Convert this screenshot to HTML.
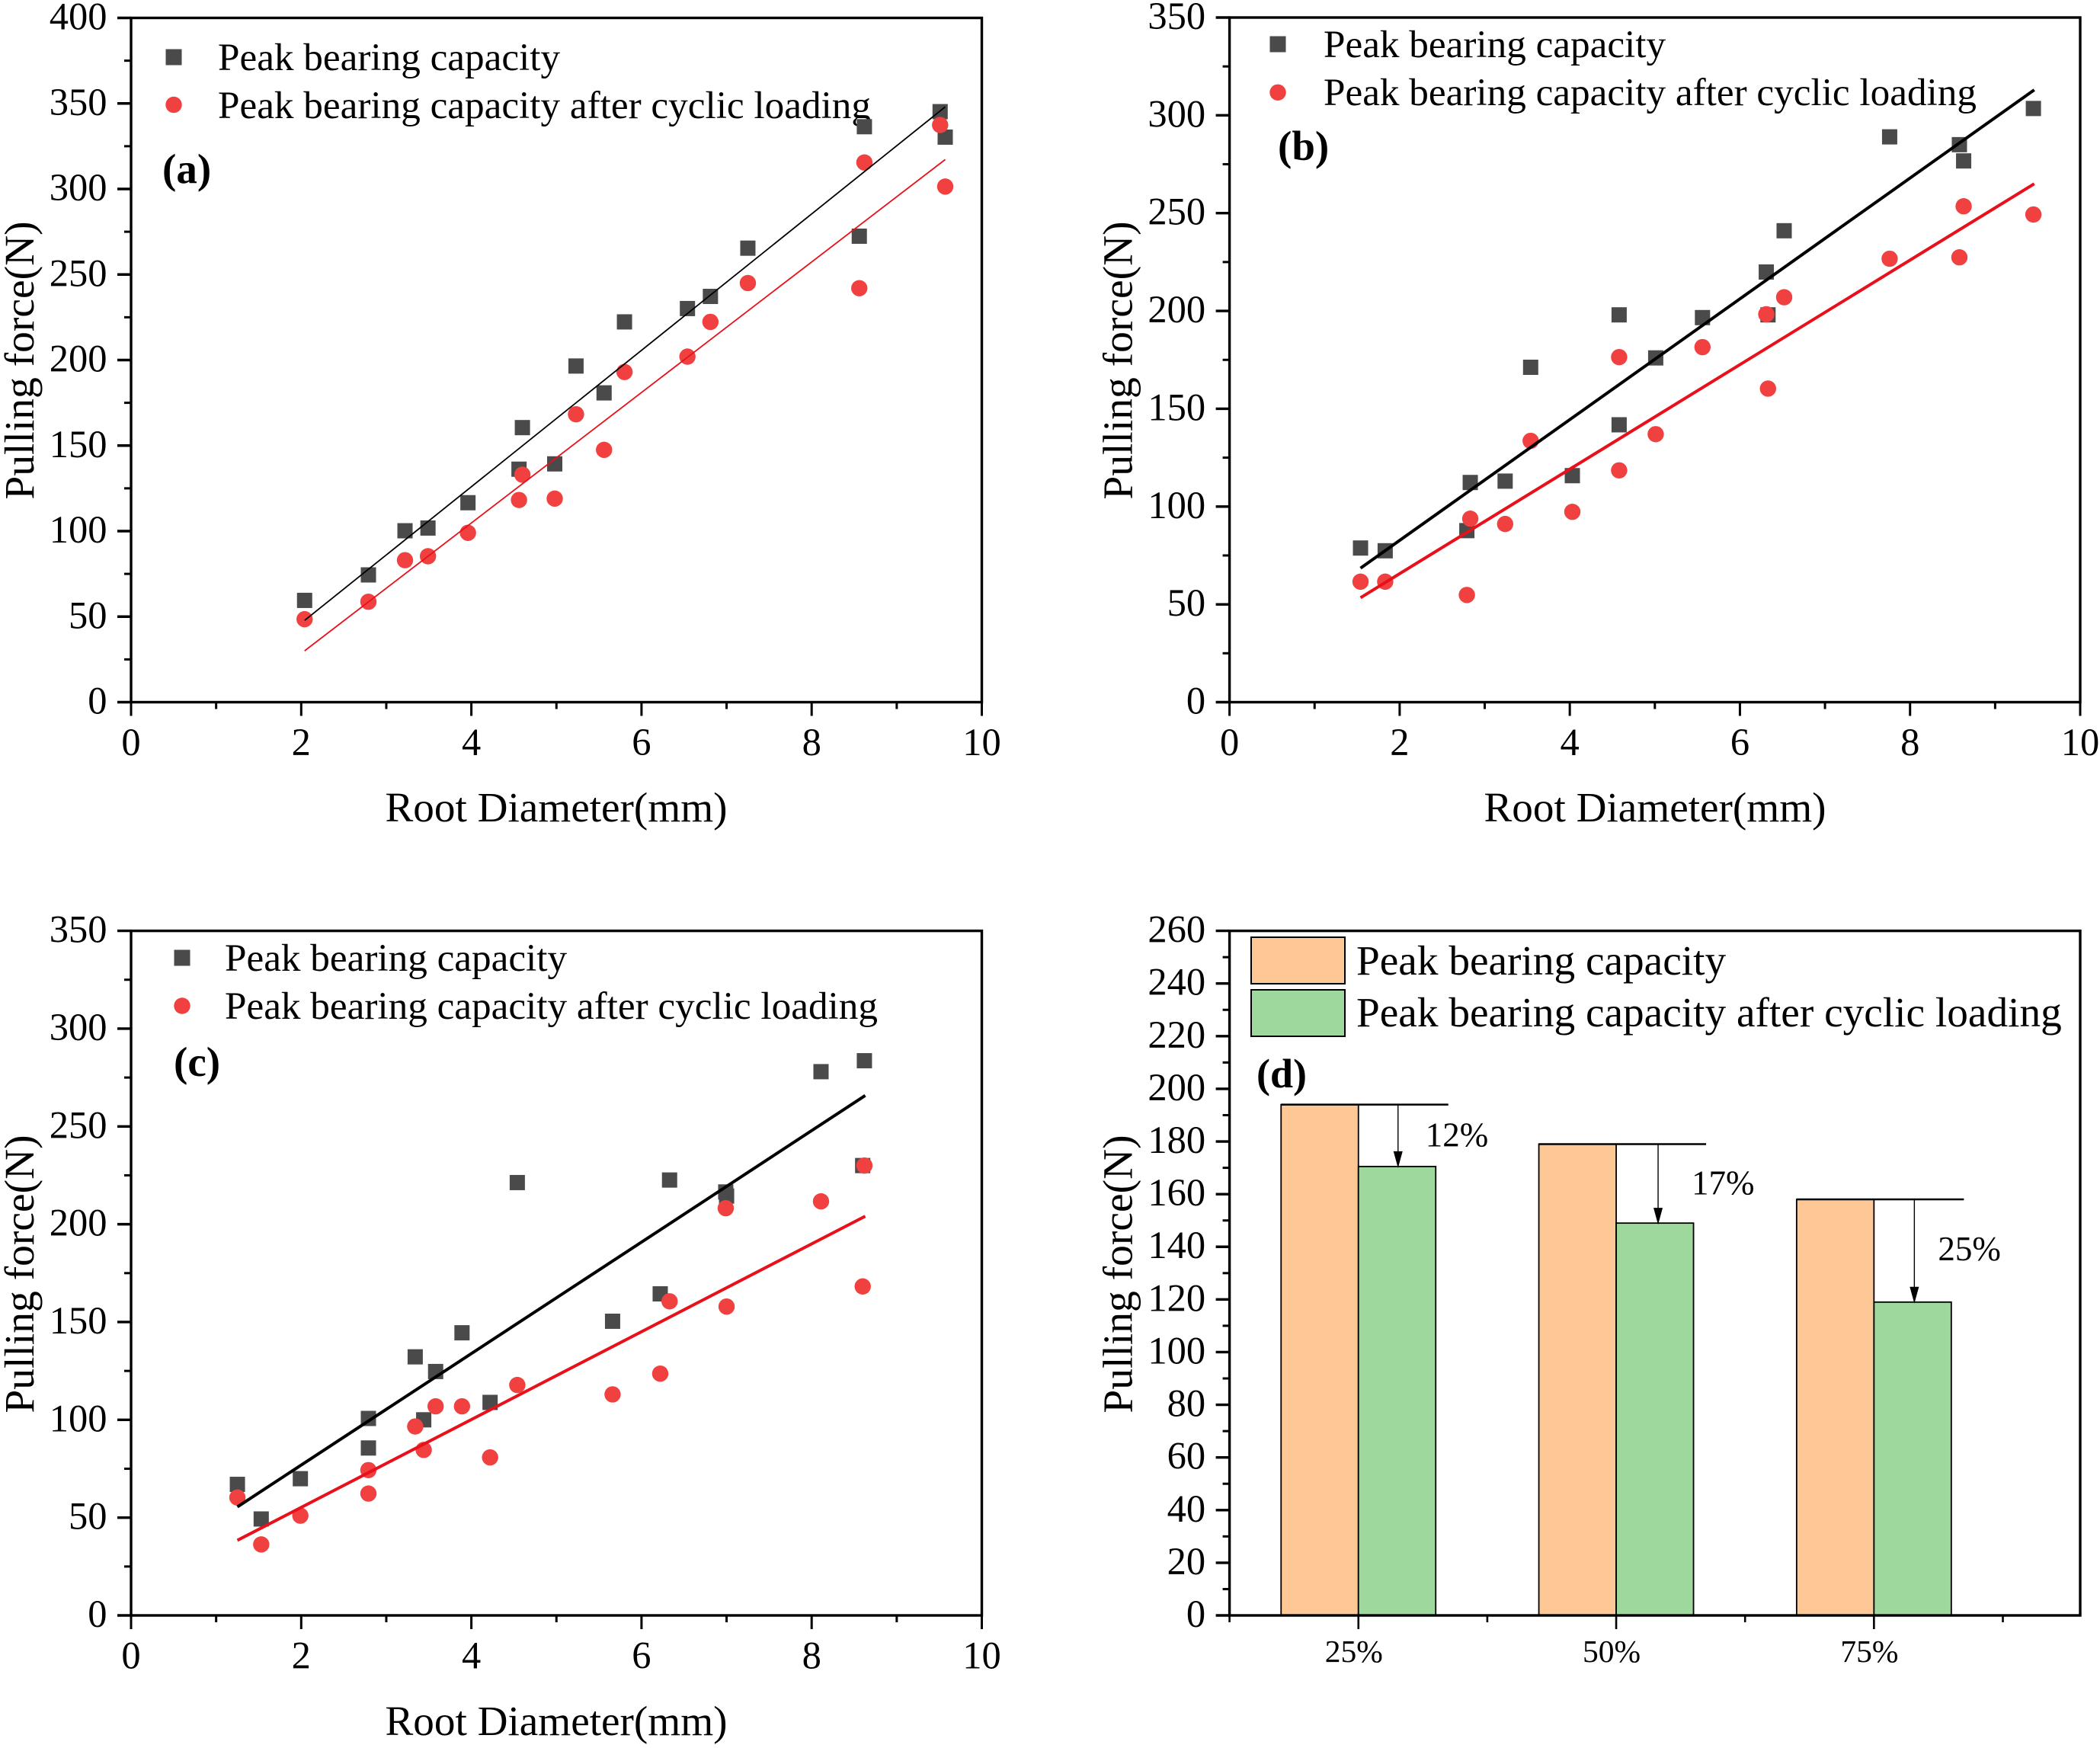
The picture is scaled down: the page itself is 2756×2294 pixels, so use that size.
<!DOCTYPE html>
<html lang="en">
<head>
<meta charset="utf-8">
<title>Pulling force versus root diameter</title>
<style>
html,body{margin:0;padding:0;background:#fff;}
svg{display:block;}
text{font-family:"Liberation Serif",serif;fill:#000;}
</style>
</head>
<body>
<svg id="figure" xmlns="http://www.w3.org/2000/svg" width="2756" height="2294" viewBox="0 0 2756 2294">
  <rect x="0" y="0" width="2756" height="2294" fill="#fff"/>
  <g id="panel-a">
    <text transform="translate(44,473) rotate(-90)" text-anchor="middle" font-size="55.5">Pulling force(N)</text>
    <text x="730" y="1078" text-anchor="middle" font-size="55.2">Root Diameter(mm)</text>
    <text x="213" y="240" font-size="55" font-weight="bold">(a)</text>
    <rect x="217.5" y="64.5" width="21" height="21" fill="#4a4a4a"/>
    <circle cx="228" cy="137.5" r="10.7" fill="#f04040"/>
    <text x="286" y="92" font-size="51.2">Peak bearing capacity</text>
    <text x="286" y="155" font-size="51.2">Peak bearing capacity after cyclic loading</text>
  </g>
  <g id="panel-b">
    <text transform="translate(1485.6,473) rotate(-90)" text-anchor="middle" font-size="55.5">Pulling force(N)</text>
    <text x="2172" y="1078" text-anchor="middle" font-size="55.2">Root Diameter(mm)</text>
    <text x="1677" y="210" font-size="55" font-weight="bold">(b)</text>
    <rect x="1666.5" y="47.5" width="21" height="21" fill="#4a4a4a"/>
    <circle cx="1677" cy="121.3" r="10.7" fill="#f04040"/>
    <text x="1737" y="75" font-size="51.2">Peak bearing capacity</text>
    <text x="1737" y="138" font-size="51.2">Peak bearing capacity after cyclic loading</text>
  </g>
  <g id="panel-c">
    <text transform="translate(44,1672) rotate(-90)" text-anchor="middle" font-size="55.5">Pulling force(N)</text>
    <text x="730" y="2277" text-anchor="middle" font-size="55.2">Root Diameter(mm)</text>
    <text x="228" y="1412" font-size="55" font-weight="bold">(c)</text>
    <rect x="228.5" y="1246.5" width="21" height="21" fill="#4a4a4a"/>
    <circle cx="239" cy="1320" r="10.7" fill="#f04040"/>
    <text x="295" y="1274" font-size="51.2">Peak bearing capacity</text>
    <text x="295" y="1337" font-size="51.2">Peak bearing capacity after cyclic loading</text>
  </g>
  <g id="panel-d">
    <text transform="translate(1485.6,1672) rotate(-90)" text-anchor="middle" font-size="55.5">Pulling force(N)</text>
    <text x="1649" y="1427" font-size="54" font-weight="bold">(d)</text>
    <rect x="1642" y="1230" width="123" height="61" fill="#fec896" stroke="#000" stroke-width="2"/>
    <rect x="1642" y="1299" width="123" height="61" fill="#9fd89d" stroke="#000" stroke-width="2"/>
    <text x="1780" y="1279" font-size="55.3">Peak bearing capacity</text>
    <text x="1780" y="1347" font-size="55.3">Peak bearing capacity after cyclic loading</text>
  </g>
</svg>
<script>
// Panel (a)
var aDiameter = [2.04,2.79,3.22,3.49,3.96,4.56,4.60,4.98,5.23,5.56,5.80,6.54,6.81,7.25,8.56,8.62,9.51,9.57];
var aPeak = [59.5,74.4,100.2,101.8,116.6,136.2,160.5,139.3,196.5,180.8,222.3,230.1,237.2,265.4,272.4,336.4,345.2,330.3];
var aCyclic = [48.5,58.7,83,85.3,99,118.2,133,119,168.3,147.5,193,202,222.3,245,242,315.5,337.4,301.4];
var aFitX = [2.04,9.57];
var aFitPeak = [47.8,348];
var aFitCyclic = [30,317.2];
var aYTicks = [0,50,100,150,200,250,300,350,400];
// Panel (b)
var bDiameter = [1.54,1.83,2.79,2.83,3.24,3.54,4.03,4.58,4.58,5.01,5.56,6.31,6.33,6.52,7.76,8.58,8.63,9.45];
var bPeak = [78.8,77.4,87.7,112.3,113,171.2,115.8,141.8,198,176,196.6,219.9,198,241,289,285,276.7,303.5];
var bCyclic = [61.6,61.6,54.8,93.8,91.1,133.6,97.3,118.5,176.4,137,181.5,198.3,160.3,207,226.7,227.4,253.5,249.3];
var bFitX = [1.54,9.46];
var bFitPeak = [68.5,313];
var bFitCyclic = [53.4,265];
var bcYTicks = [0,50,100,150,200,250,300,350];
// Panel (c)
var cDiameter = [1.25,1.53,1.99,2.79,2.79,3.34,3.44,3.58,3.89,4.22,4.54,5.66,6.22,6.33,6.99,7.0,8.11,8.6,8.62];
var cPeak = [67,49.3,69.9,85.6,100.7,132.2,100,124.7,144.5,108.9,221.3,150.4,164.4,222.6,216.5,214.4,278,230,283.6];
var cCyclic = [60.3,36.3,51,62.3,74.3,96.6,84.6,106.9,106.9,80.8,117.8,113,123.6,160.6,208.2,157.9,211.7,168.2,230];
var cFitX = [1.25,8.63];
var cFitPeak = [55.5,265.8];
var cFitCyclic = [38.4,204.1];
var xTicks = [0,2,4,6,8,10];
// Panel (d)
var dCategories = ['25%','50%','75%'];
var dPeak = [194,179,158];
var dCyclic = [170.5,149,119];
var dDrops = ['12%','17%','25%'];
var dYTicks = [0,20,40,60,80,100,120,140,160,180,200,220,240,260];

var NS = 'http://www.w3.org/2000/svg';
function make(parent, tag, attrs, content) {
  var el = document.createElementNS(NS, tag);
  for (var k in attrs) { el.setAttribute(k, attrs[k]); }
  if (content !== undefined) { el.textContent = content; }
  parent.appendChild(el);
  return el;
}
function scale(d0, d1, r0, r1) {
  return function (v) { return r0 + (v - d0) * (r1 - r0) / (d1 - d0); };
}
function drawFrame(g, box) {
  var el = make(g, 'rect', {x: box.left, y: box.top, width: box.right - box.left, height: box.bottom - box.top, fill: 'none', stroke: '#000', 'stroke-width': 3.4});
  
  
}
function drawYAxis(g, box, y, ticks) {
  var step = ticks[1] - ticks[0];
  ticks.forEach(function (t, i) {
    var major = make(g, 'line', {x1: box.left - 18, x2: box.left, y1: y(t), y2: y(t), stroke: '#000', 'stroke-width': 3.4});
    
    
    var label = make(g, 'text', {x: box.left - 31.5, y: y(t) + 15, 'text-anchor': 'end', 'font-size': 50.5}, String(t));
    
    
    if (i < ticks.length - 1) {
      var minor = make(g, 'line', {x1: box.left - 9, x2: box.left, y1: y(t + step / 2), y2: y(t + step / 2), stroke: '#000', 'stroke-width': 3});
      
      
    }
  });
}
function drawXAxis(g, box, x, ticks) {
  var step = ticks[1] - ticks[0];
  ticks.forEach(function (t, i) {
    var major = make(g, 'line', {x1: x(t), x2: x(t), y1: box.bottom, y2: box.bottom + 18, stroke: '#000', 'stroke-width': 3});
    
    
    var label = make(g, 'text', {x: x(t), y: box.bottom + 69.5, 'text-anchor': 'middle', 'font-size': 50.5}, String(t));
    
    
    if (i < ticks.length - 1) {
      var minor = make(g, 'line', {x1: x(t + step / 2), x2: x(t + step / 2), y1: box.bottom, y2: box.bottom + 9, stroke: '#000', 'stroke-width': 3});
      
      
    }
  });
}
function drawScatter(panelId, box, yMax, yTicks, xs, peak, cyclic, fitX, fitPeak, fitCyclic, fitWidth) {
  var g = document.getElementById(panelId);
  var x = scale(0, 10, box.left, box.right);
  var y = scale(0, yMax, box.bottom, box.top);
  drawFrame(g, box);
  drawYAxis(g, box, y, yTicks);
  drawXAxis(g, box, x, xTicks);
  xs.forEach(function (d, i) {
    var sq = make(g, 'rect', {x: x(d) - 10, y: y(peak[i]) - 10, width: 20, height: 20, fill: '#4a4a4a'});
    
    
  });
  xs.forEach(function (d, i) {
    var dot = make(g, 'circle', {cx: x(d), cy: y(cyclic[i]), r: 10.7, fill: '#f04040'});
    
    
  });
  var l1 = make(g, 'line', {x1: x(fitX[0]), y1: y(fitPeak[0]), x2: x(fitX[1]), y2: y(fitPeak[1]), stroke: '#000', 'stroke-width': fitWidth});
  
  
  var l2 = make(g, 'line', {x1: x(fitX[0]), y1: y(fitCyclic[0]), x2: x(fitX[1]), y2: y(fitCyclic[1]), stroke: '#e8101a', 'stroke-width': fitWidth});
  
  
}
drawScatter('panel-a', {left: 172, right: 1288.5, top: 23.5, bottom: 921.5}, 400, aYTicks, aDiameter, aPeak, aCyclic, aFitX, aFitPeak, aFitCyclic, 1.8);
drawScatter('panel-b', {left: 1613.6, right: 2730, top: 23, bottom: 921.5}, 350, bcYTicks, bDiameter, bPeak, bCyclic, bFitX, bFitPeak, bFitCyclic, 4);
drawScatter('panel-c', {left: 172, right: 1288.5, top: 1221.6, bottom: 2120}, 350, bcYTicks, cDiameter, cPeak, cCyclic, cFitX, cFitPeak, cFitCyclic, 4);

(function drawBars() {
  var g = document.getElementById('panel-d');
  var box = {left: 1613.6, right: 2730, top: 1221.6, bottom: 2120};
  var x = scale(0.5, 3.8, box.left, box.right);
  var y = scale(0, 260, box.bottom, box.top);
  var halfTicks = [0.5, 1.5, 2.5, 3.5];
  var barW = 0.3;
  var dropOffsetX = [52, 55, 53];
  var leaderEnd = [118, 118, 118];
  var dropLabelX = [88, 99, 84];
  var dropLabelDrop = [55, 66, 80];
  dCategories.forEach(function (c, i) {
    var cx = x(i + 1);
    var b1 = make(g, 'rect', {x: x(i + 1 - barW), y: y(dPeak[i]), width: x(i + 1) - x(i + 1 - barW), height: y(0) - y(dPeak[i]), fill: '#fec896', stroke: '#000', 'stroke-width': 1.8});
    
    
    var b2 = make(g, 'rect', {x: cx, y: y(dCyclic[i]), width: x(i + 1 + barW) - cx, height: y(0) - y(dCyclic[i]), fill: '#9fd89d', stroke: '#000', 'stroke-width': 1.8});
    
    
    var topLine = make(g, 'line', {x1: x(i + 1 - barW), x2: cx + leaderEnd[i], y1: y(dPeak[i]), y2: y(dPeak[i]), stroke: '#000', 'stroke-width': 2.5});
    
    
    var ax = cx + dropOffsetX[i];
    var shaft = make(g, 'line', {x1: ax, x2: ax, y1: y(dPeak[i]), y2: y(dCyclic[i]) - 10, stroke: '#000', 'stroke-width': 1.4});
    
    
    var tipY = y(dCyclic[i]) + 2;
    var head = make(g, 'polygon', {points: (ax - 6) + ',' + (tipY - 22) + ' ' + (ax + 6) + ',' + (tipY - 22) + ' ' + ax + ',' + tipY, fill: '#000'});
    
    
    var pct = make(g, 'text', {x: cx + dropLabelX[i], y: y(dPeak[i]) + dropLabelDrop[i], 'font-size': 45}, dDrops[i]);
    
    
    var tick = make(g, 'line', {x1: cx, x2: cx, y1: box.bottom, y2: box.bottom + 18, stroke: '#000', 'stroke-width': 2.6});
    
    
    var lab = make(g, 'text', {x: cx - 6, y: 2181, 'text-anchor': 'middle', 'font-size': 41.5}, c);
    
    
  });
  halfTicks.forEach(function (t) {
    var m = make(g, 'line', {x1: x(t), x2: x(t), y1: box.bottom, y2: box.bottom + 9, stroke: '#000', 'stroke-width': 2.6});
    
    
  });
  drawFrame(g, box);
  drawYAxis(g, box, y, dYTicks);
})();
</script>
</body>
</html>
